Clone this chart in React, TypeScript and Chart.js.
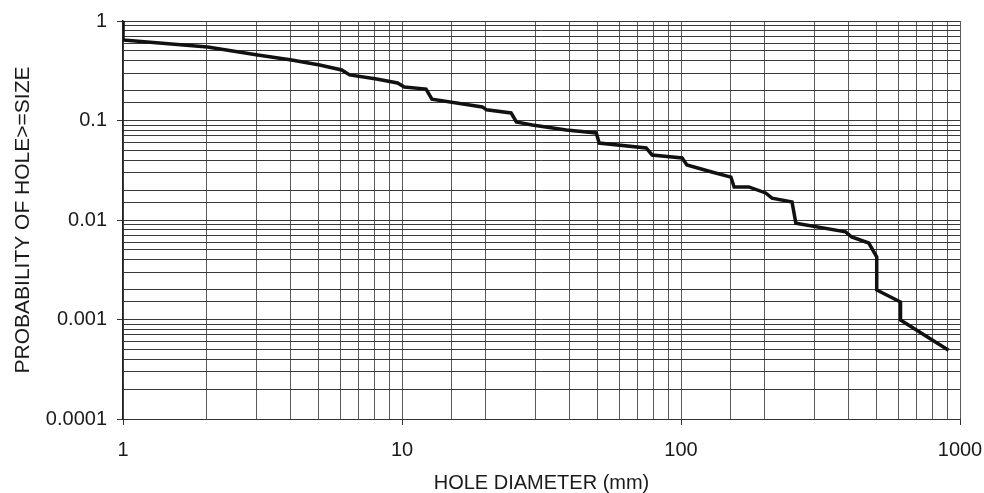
import React, { useEffect, useRef } from 'react';
import { Chart, registerables } from 'chart.js';

Chart.register(...registerables);

// Hole diameter (mm) and probability of hole >= size
const holeDiameters = [
  1, 1, 2.01, 3.04, 4.02, 5.07, 6.08, 6.49, 8.11, 9.64,
  10.2, 12.2, 12.8, 19.4, 20.1, 24.6, 25.7, 29.3, 38.8, 49.7,
  50.9, 75, 78.8, 100.9, 105, 129, 151, 155, 175, 201,
  212, 250, 258, 389, 409, 471, 503, 503, 612, 612,
  910,
];
const probabilities = [
  1, 0.644, 0.548, 0.455, 0.406, 0.361, 0.322, 0.287, 0.261, 0.238,
  0.217, 0.207, 0.164, 0.137, 0.128, 0.119, 0.0966, 0.0902, 0.0803, 0.0749,
  0.0594, 0.053, 0.045, 0.042, 0.0357, 0.0304, 0.027, 0.0215, 0.0215, 0.0187,
  0.0166, 0.0152, 0.0093, 0.0076, 0.00675, 0.00587, 0.00425, 0.00198, 0.0015, 0.00099,
  0.00049,
];

const xTickLabels: Record<number, string> = { 0: '1', 1: '10', 2: '100', 3: '1000' };
const yTickLabels: Record<number, string> = { 0: '1', [-1]: '0.1', [-2]: '0.01', [-3]: '0.001', [-4]: '0.0001' };

const xTitle = 'HOLE DIAMETER (mm)';
const yTitle = 'PROBABILITY OF HOLE>=SIZE';

const FONT = "'Liberation Sans', Arial, sans-serif";

function decadeOf(v: number): number | null {
  const l = Math.log10(v);
  const r = Math.round(l);
  return Math.abs(l - r) < 1e-6 ? r : null;
}

export default function App() {
  const canvasRef = useRef<HTMLCanvasElement | null>(null);

  useEffect(() => {
    if (!canvasRef.current) return;
    const points = holeDiameters.map((x, i) => ({ x, y: probabilities[i] }));
    const chart = new Chart(canvasRef.current, {
      type: 'scatter',
      data: {
        datasets: [
          {
            data: points,
            showLine: true,
            borderColor: '#111',
            borderWidth: 3.5,
            pointRadius: 0,
            tension: 0,
            fill: false,
          },
        ],
      },
      options: {
        animation: false,
        responsive: true,
        maintainAspectRatio: false,
        layout: { padding: { left: 0, top: 21, right: 24, bottom: 0 } },
        plugins: { legend: { display: false }, tooltip: { enabled: false } },
        scales: {
          x: {
            type: 'logarithmic',
            min: 1,
            max: 1000,
            afterFit: (s: any) => {
              s.height = 74;
              s.paddingRight = 0;
              s.paddingLeft = 0;
            },
            border: { color: '#333', width: 1 },
            grid: {
              color: '#5a5a5a',
              lineWidth: 1,
              tickLength: 6,
              tickColor: (c: any) => (c.tick && decadeOf(c.tick.value) !== null ? '#333' : 'rgba(0,0,0,0)'),
            },
            ticks: {
              autoSkip: false,
              maxRotation: 0,
              padding: 13,
              color: '#1a1a1a',
              font: { family: FONT, size: 20 },
              callback: (v: any) => {
                const d = decadeOf(Number(v));
                return d !== null && xTickLabels[d] !== undefined ? xTickLabels[d] : '';
              },
            },
            title: {
              display: true,
              text: xTitle,
              color: '#1a1a1a',
              font: { family: FONT, size: 20, lineHeight: 1 },
              padding: { top: 0, bottom: 0 },
            },
          },
          y: {
            type: 'logarithmic',
            min: 0.0001,
            max: 1,
            afterFit: (s: any) => {
              s.width = 123;
              s.paddingTop = 0;
              s.paddingBottom = 0;
            },
            border: { color: '#222', width: 1.5 },
            grid: {
              color: '#383838',
              lineWidth: 1,
              tickLength: 6,
              tickColor: (c: any) => (c.tick && decadeOf(c.tick.value) !== null ? '#333' : 'rgba(0,0,0,0)'),
            },
            ticks: {
              autoSkip: false,
              padding: 10,
              color: '#1a1a1a',
              font: { family: FONT, size: 20 },
              callback: (v: any) => {
                const d = decadeOf(Number(v));
                return d !== null && yTickLabels[d] !== undefined ? yTickLabels[d] : '';
              },
            },
            title: {
              display: true,
              text: yTitle,
              color: '#1a1a1a',
              font: { family: FONT, size: 21, lineHeight: 1 },
              padding: { top: 13, bottom: 0 },
            },
          },
        },
      },
    });
    return () => chart.destroy();
  }, []);

  return (
    <div style={{ position: 'fixed', left: 0, top: 0, width: 984, height: 493, background: '#fff' }}>
      <canvas ref={canvasRef} />
    </div>
  );
}
